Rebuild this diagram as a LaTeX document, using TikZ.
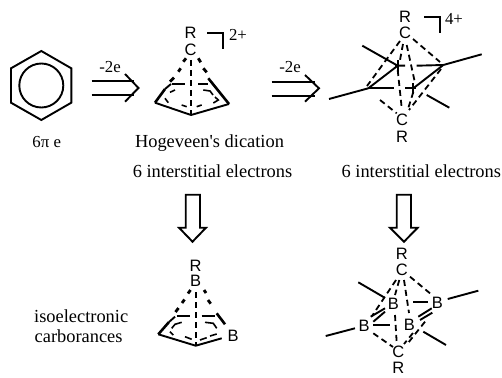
\documentclass[tikz,border=0pt]{standalone}
\usepackage{fontspec}
\setmainfont{Liberation Serif}
\newfontfamily\plainserif{Liberation Serif}
\newfontfamily\labelsans{Liberation Sans}
\tikzset{
  bond/.style={line width=1.9pt,black},
  heavy/.style={line width=2.6pt,black},
  dbond/.style={line width=1.8pt,black,dash pattern=on 6pt off 4pt},
  twin/.style={line width=2.8pt,black},
  ibond/.style={line width=1.6pt,black},
  atom/.style={font=\labelsans\fontsize{16.5}{17}\selectfont,inner sep=0pt,text=black},
  txt/.style={font=\fontsize{18.4}{20}\selectfont,inner sep=0pt,text=black},
  small/.style={font=\fontsize{16.8}{18}\selectfont,inner sep=0pt,text=black},
  hollow/.style={line width=1.9pt,black,fill=white,line join=miter},
}
\begin{document}
\begin{tikzpicture}[x=1pt,y=-1pt]
\useasboundingbox (0,0) rectangle (502,377);
% benzene
\coordinate (b1) at (41.3,51); \coordinate (b2) at (71.3,68.3); \coordinate (b3) at (71.3,102.7);
\coordinate (b4) at (41.3,120); \coordinate (b5) at (11,102.7); \coordinate (b6) at (11,68.3);
\draw[bond] (b1)--(b2)--(b3)--(b4)--(b5)--(b6)--cycle;
\draw[bond] (41.3,85.5) circle (22);
\node[small] (t1) at (46.7,142.5) {6π e};
% reaction arrows
\node[small] (m1) at (110,67.5) {-2e};
\draw[bond] (91.7,80.7)--(134,80.7) (91.7,95)--(134,95);
\draw[bond] (125,74)--(138.5,88)--(125,101.7);
\node[small] (m2) at (290,67.5) {-2e};
\draw[bond] (271.7,81.7)--(315,81.7) (271.7,95.7)--(315,95.7);
\draw[bond] (305,75)--(319,88.3)--(305,101.7);
% Hogeveen dication
\node[atom] (R1) at (190.7,33) {R};
\node[atom] (C1) at (190.7,50) {C};
\draw[bond] (207.3,33.3)-|(222.7,49.3);
\node[small] (q1) at (238,35) {2+};
\coordinate (cl) at (155,102.7); \coordinate (cb) at (191,115); \coordinate (cr) at (229,104);
\draw[bond,line join=round] (cl)--(cb)--(cr);
\draw[heavy] (cl)--(165,89);
\draw[bond] (165,89)--(171,84);
\draw[bond] (171.7,84)--(185,84) (198.3,84)--(208.3,84);
\draw[dbond] (191,60)--(cb);
\draw[twin] (183.3,61.7)--(186,58.3) (178.3,71.7)--(180.7,68.3) (170,81.7)--(174,77.7);
\draw[twin] (198.3,58.3)--(200.7,62.3) (203.3,68.3)--(206.7,72.3);
\draw[heavy] (208.3,78.3)--(cr);
\draw[ibond] (175,90)--(170,92.3) (165,98.3)--(168.3,102.7);
\draw[ibond] (203.3,90)--(210,91)--(213,95) (215,97)--(218.3,100)--(213.3,103);
\draw[ibond] (181.7,105)--(186.7,106.7) (196.7,106.7)--(201.7,105);
% octahedral dication
\node[atom] (R2) at (405,17.3) {R};
\node[atom] (C2) at (405,33.3) {C};
\node[atom] (C3) at (402,120) {C};
\node[atom] (R3) at (402,136.5) {R};
\draw[bond] (424,17.3)-|(440,33.3);
\node[small] (q2) at (454,18.5) {4+};
\coordinate (A) at (397.7,65.7); \coordinate (B) at (443.3,65); \coordinate (Cc) at (368.3,88.3); \coordinate (D) at (413.3,88.3);
\draw[bond] (A)--(362.3,45.7) (B)--(481.7,54.3) (Cc)--(329,99) (426.7,95)--(449.3,107.7);
\draw[bond] (A)--(Cc) (D)--(B);
\draw[bond] (Cc)--(394,88.3) (405,88.3)--(416,88.3);
\draw[bond] (395,65.7)--(405,65.7) (416.7,65.7)--(B);
\draw[bond] (397.7,60)--(397.7,72) (413.3,83)--(413.3,94);
\draw[dbond] (413,39)--(440,62);
\draw[dbond] (400,41)--(367,86);
\draw[dbond] (406.7,45)--(415,83);
\draw[dbond] (403,44)--(400,60);
\draw[dbond] (397.7,70)--(401.7,108);
\draw[dbond] (413.3,92)--(408,109);
\draw[dbond] (380,100)--(396.7,113.3);
\draw[dbond] (441,69)--(409,110);
% captions
\node[txt] (t2) at (209.5,143) {Hogeveen{\plainserif'}s dication};
\node[txt] (t3) at (212.5,171) {6 interstitial electrons};
\node[txt] (t4) at (421.3,171) {6 interstitial electrons};
% down arrows
\draw[hollow] (185.7,194.7)--(200,194.7)--(200,227.7)--(206,227.7)--(192.5,241.7)--(179,227.7)--(185.7,227.7)--cycle;
\draw[hollow] (396.7,194.7)--(411,194.7)--(411,227.7)--(417.7,227.7)--(404,241.7)--(390,227.7)--(396.7,227.7)--cycle;
% carborane left
\node[txt,anchor=west] (t5) at (34,316.5) {isoelectronic};
\node[txt,anchor=west] (t6) at (34.5,336.5) {carborances};
\node[atom] (R4) at (195.7,265.5) {R};
\node[atom] (B4) at (195.7,281) {B};
\node[atom] (B5) at (233,336) {B};
\coordinate (dl) at (158.3,334.3); \coordinate (db) at (195.7,345.7);
\draw[bond,line join=round] (dl)--(db)--(221.7,338.3);
\draw[heavy] (dl)--(169,322);
\draw[bond] (169,322)--(175,316.7);
\draw[bond] (176.7,315.7)--(190,315.7) (201.7,315.7)--(215,315.7);
\draw[dbond] (195.7,292)--(db);
\draw[twin] (188,293.5)--(190.5,290) (182,303)--(184.5,299.5) (175.5,312)--(178.5,308);
\draw[twin] (204,290)--(206,293) (208,300)--(210.7,303.7);
\draw[heavy] (216.7,313.3)--(225,324.3);
\draw[ibond] (181.7,322.3)--(175,324.3)--(171.7,328.3) (170,331.7)--(173.3,335);
\draw[ibond] (205,322.3)--(213.3,323.3)--(216.7,328.3);
\draw[ibond] (185,336.7)--(191.7,339.3) (200,340)--(206.7,337.7) (210,336)--(216.7,334);
% carborane right
\node[atom] (R5) at (401.7,254) {R};
\node[atom] (C5) at (401.7,270) {C};
\node[atom] (Ba) at (393.3,303.5) {B};
\node[atom] (Bb) at (437.3,302.7) {B};
\node[atom] (Bc) at (364,326) {B};
\node[atom] (Bd) at (409.3,325) {B};
\node[atom] (C6) at (398.3,352) {C};
\node[atom] (R6) at (398.3,367.5) {R};
\draw[bond] (384,297.3)--(358.3,282.3) (447.7,299)--(478.3,290.7) (355,328.3)--(325.7,336) (423.3,331.7)--(446,345);
\draw[bond] (413.3,301.7)--(428.3,301.7);
\draw[bond] (373.3,325)--(390,325);
\draw[bond] (370.7,316.7)--(385,308.3) (373.3,321.7)--(385,311.7);
\draw[bond] (418.3,316.7)--(431.7,308.3) (420,320)--(432.3,312.7);
\draw[dbond] (410,276.7)--(430,293.3);
\draw[dbond] (399.3,280)--(395,295);
\draw[dbond] (404,280)--(409,313);
\draw[dbond] (396,280)--(372,316);
\draw[dbond] (373.3,333.3)--(393,347);
\draw[dbond] (395,315)--(396.7,343);
\draw[dbond] (413,333)--(404,344);
\draw[dbond] (425,321.7)--(408,343);
\end{tikzpicture}
\end{document}
